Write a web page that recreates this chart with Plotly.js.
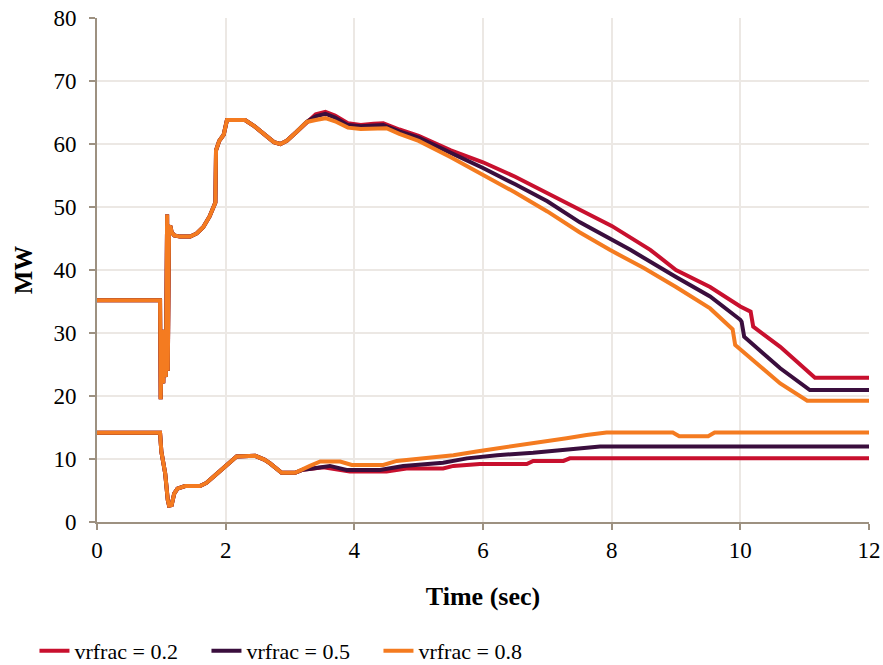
<!DOCTYPE html>
<html>
<head>
<meta charset="utf-8">
<script src="https://cdn.plot.ly/plotly-3.0.1.min.js"></script>
<style>html,body{margin:0;padding:0;background:#fff;}#chart{width:883px;height:665px;}</style>
</head>
<body>
<div id="chart"></div>
<script>
// Series names
const seriesNames = ["vrfrac = 0.2", "vrfrac = 0.5", "vrfrac = 0.8"];

// Upper curve: common start (all three overlap)
const upperCommonT = [0, 0.98, 0.99, 1.01, 1.03, 1.05, 1.07, 1.09, 1.10, 1.12, 1.14, 1.16, 1.20, 1.29, 1.45, 1.55, 1.65, 1.75, 1.84, 1.85, 1.90, 1.97, 2.02, 2.30, 2.45, 2.60, 2.75, 2.85, 2.95, 3.10, 3.26];
const upperCommonY = [35.2, 35.2, 19.5, 30.5, 22.0, 30.5, 23.0, 48.8, 24.0, 46.8, 47.0, 46.0, 45.5, 45.3, 45.3, 45.8, 46.8, 48.5, 50.7, 59.0, 60.5, 61.5, 63.8, 63.8, 62.8, 61.5, 60.3, 60.0, 60.5, 61.9, 63.5];

// Upper curve tails
const upperRedT = [3.40, 3.55, 3.70, 3.90, 4.10, 4.30, 4.45, 4.70, 5.00, 5.50, 6.00, 6.50, 7.00, 7.50, 8.00, 8.60, 9.00, 9.53, 10.00, 10.16, 10.20, 10.62, 11.16, 12.00];
const upperRedY = [64.7, 65.1, 64.5, 63.3, 63.0, 63.2, 63.3, 62.3, 61.3, 59.0, 57.1, 54.8, 52.2, 49.5, 47.0, 43.2, 40.0, 37.3, 34.2, 33.4, 31.0, 27.8, 22.9, 22.9];

const upperPurpleT = [3.40, 3.55, 3.70, 3.90, 4.10, 4.30, 4.45, 4.70, 5.00, 5.50, 6.00, 6.50, 7.00, 7.50, 7.85, 8.29, 9.00, 9.53, 10.00, 10.02, 10.06, 10.62, 11.08, 12.00];
const upperPurpleY = [64.4, 64.8, 64.2, 63.0, 62.8, 62.9, 63.0, 62.0, 61.0, 58.6, 56.2, 53.6, 50.9, 47.6, 45.6, 43.2, 38.9, 35.8, 32.1, 31.8, 29.4, 24.4, 20.95, 20.95];

const upperOrangeT = [3.40, 3.55, 3.70, 3.90, 4.10, 4.30, 4.50, 4.70, 5.00, 5.50, 6.00, 6.50, 7.00, 7.50, 7.97, 8.50, 9.00, 9.53, 9.88, 9.92, 10.62, 11.04, 12.00];
const upperOrangeY = [63.8, 64.1, 63.6, 62.6, 62.4, 62.4, 62.5, 61.6, 60.5, 57.9, 55.1, 52.3, 49.3, 46.0, 43.2, 40.3, 37.3, 33.9, 30.6, 28.1, 22.0, 19.25, 19.25];

// Lower curve: common start
const lowerCommonT = [0, 0.98, 1.00, 1.06, 1.10, 1.12, 1.16, 1.20, 1.25, 1.37, 1.60, 1.70, 1.81, 1.96, 2.10, 2.17, 2.46, 2.60, 2.69, 2.87, 3.08, 3.20];
const lowerCommonY = [14.15, 14.15, 11.2, 7.7, 3.5, 2.6, 2.7, 4.5, 5.3, 5.7, 5.7, 6.2, 7.2, 8.5, 9.8, 10.4, 10.5, 9.9, 9.3, 7.8, 7.8, 8.3];

// Lower curve tails
const lowerRedT = [3.30, 3.52, 3.93, 4.50, 4.81, 5.38, 5.54, 5.95, 6.68, 6.78, 7.25, 7.35, 12.00];
const lowerRedY = [8.4, 8.7, 8.0, 8.0, 8.5, 8.5, 8.9, 9.2, 9.2, 9.7, 9.7, 10.1, 10.1];

const lowerPurpleT = [3.35, 3.62, 3.88, 4.40, 4.76, 5.38, 5.75, 6.22, 6.78, 7.25, 7.82, 12.00];
const lowerPurpleY = [8.5, 8.9, 8.25, 8.25, 8.9, 9.4, 10.1, 10.6, 11.0, 11.5, 12.0, 12.0];

const lowerOrangeT = [3.31, 3.47, 3.78, 3.96, 4.45, 4.66, 5.07, 5.54, 5.90, 6.47, 6.99, 7.30, 7.61, 7.92, 8.95, 9.05, 9.50, 9.60, 12.00];
const lowerOrangeY = [8.9, 9.6, 9.6, 9.05, 9.05, 9.7, 10.1, 10.6, 11.2, 12.0, 12.8, 13.3, 13.8, 14.2, 14.2, 13.6, 13.6, 14.2, 14.2];

const colors = ["#C8102E", "#3A0E3D", "#F47B20"];

const upperTails = [[upperRedT, upperRedY], [upperPurpleT, upperPurpleY], [upperOrangeT, upperOrangeY]];
const lowerTails = [[lowerRedT, lowerRedY], [lowerPurpleT, lowerPurpleY], [lowerOrangeT, lowerOrangeY]];

const traces = [];
for (let i = 0; i < 3; i++) {
  traces.push({
    x: upperCommonT.concat(upperTails[i][0]),
    y: upperCommonY.concat(upperTails[i][1]),
    type: "scatter", mode: "lines", name: seriesNames[i],
    legendgroup: "g" + i,
    line: {color: colors[i], width: 4}
  });
  traces.push({
    x: lowerCommonT.concat(lowerTails[i][0]),
    y: lowerCommonY.concat(lowerTails[i][1]),
    type: "scatter", mode: "lines", name: seriesNames[i],
    legendgroup: "g" + i, showlegend: false,
    line: {color: colors[i], width: 4}
  });
}

const FAM = "Liberation Serif";
const axisCol = "#9D9181";
const gridCol = "#ECE8E4";
const layout = {
  width: 883, height: 665,
  margin: {l: 97, r: 14, t: 18, b: 143, autoexpand: false},
  paper_bgcolor: "#fff", plot_bgcolor: "#fff",
  font: {family: FAM, color: "#000"},
  showlegend: true,
  legend: {
    orientation: "h", x: -0.081, xanchor: "left", y: -0.256, yanchor: "middle",
    font: {family: FAM, size: 22, color: "#000"},
    entrywidth: 127, entrywidthmode: "pixels",
    traceorder: "normal"
  },
  xaxis: {
    range: [0, 12], dtick: 2, tick0: 0, automargin: false,
    showgrid: true, gridcolor: gridCol, gridwidth: 2,
    showline: true, linecolor: axisCol, linewidth: 2,
    ticks: "outside", ticklen: 6, tickcolor: axisCol, tickwidth: 2,
    tickfont: {family: FAM, size: 23, color: "#000"}, zeroline: false,
    title: {text: "<b>Time (sec)</b>", font: {family: FAM, size: 26, color: "#000"}, standoff: 25}
  },
  yaxis: {
    range: [0, 80], dtick: 10, tick0: 0, automargin: false,
    showgrid: true, gridcolor: gridCol, gridwidth: 2,
    showline: true, linecolor: axisCol, linewidth: 2,
    ticks: "outside", ticklen: 6, tickcolor: axisCol, tickwidth: 2,
    ticklabelstandoff: 8,
    tickfont: {family: FAM, size: 23, color: "#000"}, zeroline: false,
    title: {text: "<b>MW</b>", font: {family: FAM, size: 25, color: "#000"}, standoff: 14}
  }
};

Plotly.newPlot("chart", traces, layout, {displayModeBar: false, staticPlot: true});
</script>
</body>
</html>
